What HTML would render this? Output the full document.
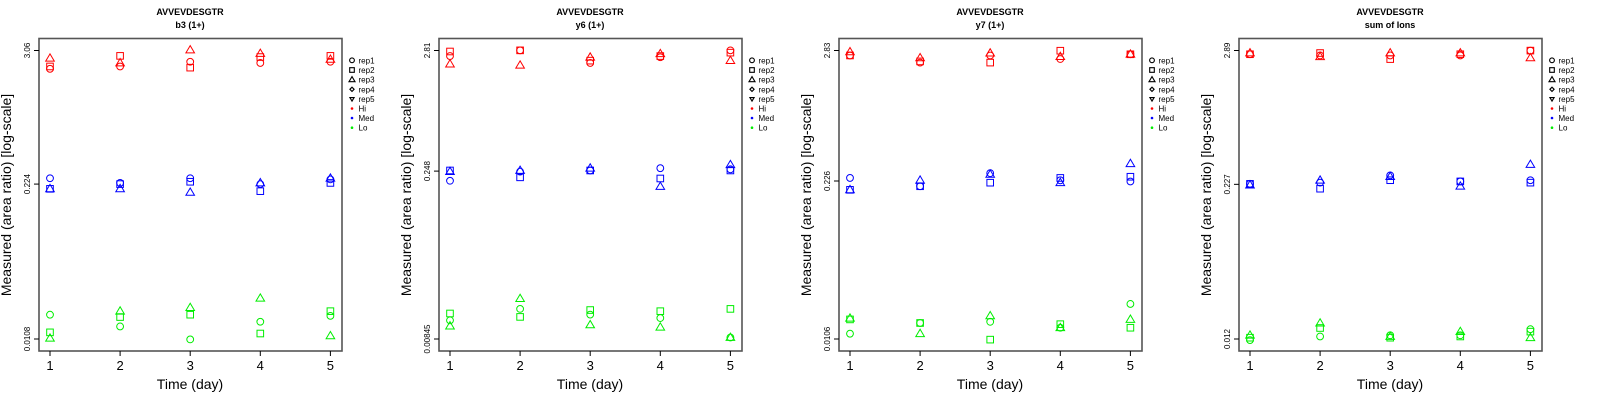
<!DOCTYPE html>
<html><head><meta charset="utf-8"><style>
html,body{margin:0;padding:0;background:#fff;}
svg{display:block;font-family:"Liberation Sans",Arial,sans-serif;}
</style></head><body>
<svg id="chart" width="1600" height="400" viewBox="0 0 1600 400" xmlns="http://www.w3.org/2000/svg"></svg>
<script>
// ---- data ----
const days = [1, 2, 3, 4, 5];
const panelTitles = ["b3 (1+)", "y6 (1+)", "y7 (1+)", "sum of Ions"];
const peptide = "AVVEVDESGTR";
const tickLabels = [["3.06","0.224","0.0108"],["2.81","0.248","0.00845"],["2.83","0.226","0.0106"],["2.89","0.227","0.012"]];
const tickValues = [[3.06,0.224,0.0108],[2.81,0.248,0.00845],[2.83,0.226,0.0106],[2.89,0.227,0.012]];
const groups = ["Hi","Med","Lo"];
const reps = ["rep1","rep2","rep3","rep4","rep5"];
// log10 measured values: [panel][group][day][rep1,rep2,rep3]
const p1Hi  = [[0.33,0.35,0.42],[0.35,0.44,0.38],[0.39,0.34,0.49],[0.38,0.43,0.46],[0.39,0.44,0.41]];
const p1Med = [[-0.60,-0.69,-0.69],[-0.64,-0.65,-0.69],[-0.60,-0.63,-0.72],[-0.65,-0.71,-0.64],[-0.61,-0.64,-0.60]];
const p1Lo  = [[-1.76,-1.91,-1.96],[-1.86,-1.78,-1.73],[-1.97,-1.76,-1.70],[-1.82,-1.92,-1.62],[-1.77,-1.73,-1.94]];
const p2Hi  = [[0.40,0.44,0.33],[0.45,0.45,0.32],[0.34,0.36,0.39],[0.39,0.40,0.42],[0.45,0.43,0.36]];
const p2Med = [[-0.69,-0.60,-0.61],[-0.61,-0.66,-0.60],[-0.60,-0.60,-0.58],[-0.58,-0.67,-0.74],[-0.59,-0.60,-0.55]];
const p2Lo  = [[-1.91,-1.85,-1.96],[-1.81,-1.88,-1.72],[-1.86,-1.82,-1.95],[-1.89,-1.83,-1.97],[-2.06,-1.81,-2.06]];
const p3Hi  = [[0.41,0.41,0.44],[0.35,0.36,0.39],[0.41,0.35,0.43],[0.38,0.45,0.40],[0.42,0.42,0.42]];
const p3Med = [[-0.62,-0.72,-0.72],[-0.69,-0.69,-0.64],[-0.58,-0.66,-0.59],[-0.64,-0.62,-0.66],[-0.65,-0.61,-0.50]];
const p3Lo  = [[-1.93,-1.81,-1.80],[-1.84,-1.84,-1.93],[-1.83,-1.98,-1.78],[-1.88,-1.85,-1.88],[-1.68,-1.88,-1.81]];
const p4Hi  = [[0.43,0.43,0.44],[0.42,0.44,0.41],[0.42,0.39,0.44],[0.42,0.43,0.44],[0.46,0.46,0.40]];
const p4Med = [[-0.64,-0.64,-0.65],[-0.63,-0.68,-0.61],[-0.57,-0.61,-0.58],[-0.62,-0.62,-0.66],[-0.61,-0.63,-0.48]];
const p4Lo  = [[-1.93,-1.91,-1.89],[-1.90,-1.83,-1.79],[-1.89,-1.91,-1.90],[-1.89,-1.90,-1.86],[-1.84,-1.86,-1.91]];
const panelData = [[p1Hi,p1Med,p1Lo],[p2Hi,p2Med,p2Lo],[p3Hi,p3Med,p3Lo],[p4Hi,p4Med,p4Lo]];
const groupColors = ["#ff0000","#0000ff","#00ee00"];

const NS = "http://www.w3.org/2000/svg";
const svg = document.getElementById("chart");
function mk(tag, attrs, parent, text){
  const e = document.createElementNS(NS, tag);
  for (const k in attrs) e.setAttribute(k, attrs[k]);
  if (text !== undefined) e.textContent = text;
  parent.appendChild(e);
  return e;
}
function marker(parent, shape, x, y, color){
  let e;
  if (shape === 0) e = mk("circle",{cx:x,cy:y,r:3.4,fill:"none",stroke:color,"stroke-width":1},parent);
  else if (shape === 1) e = mk("rect",{x:x-3.3,y:y-3.3,width:6.6,height:6.6,fill:"none",stroke:color,"stroke-width":1},parent);
  else if (shape === 2) e = mk("polygon",{points:`${x},${y-4.4} ${x-4.3},${y+2.9} ${x+4.3},${y+2.9}`,fill:"none",stroke:color,"stroke-width":1},parent);
  else if (shape === 3) e = mk("polygon",{points:`${x},${y-3} ${x+3},${y} ${x},${y+3} ${x-3},${y}`,fill:"none",stroke:color,"stroke-width":1},parent);
  else e = mk("polygon",{points:`${x},${y+3} ${x-3},${y-2} ${x+3},${y-2}`,fill:"none",stroke:color,"stroke-width":1},parent);
  return e;
}

for (let p = 0; p < 4; p++){
  const ox = p * 400;
  const g = mk("g",{transform:`translate(${ox},0)`},svg);
  
  
  const topLog = Math.log10(tickValues[p][0]), botLog = Math.log10(tickValues[p][2]);
  const yScale = v => 50.5 + (topLog - v) / (topLog - botLog) * 288.5;
  const xScale = d => 50 + (d - 1) * 70.1;

  const t1 = mk("text",{x:190,y:15,"text-anchor":"middle","font-size":"9","font-weight":"bold"},g,peptide);
  
  
  const t2 = mk("text",{x:190,y:28,"text-anchor":"middle","font-size":"9","font-weight":"bold"},g,panelTitles[p]);
  
  

  const box = mk("rect",{x:39,y:38.5,width:303,height:312.5,fill:"none",stroke:"#555","stroke-width":1.6},g);
  
  

  // x axis
  days.forEach(d => {
    const x = xScale(d);
    const tk = mk("line",{x1:x,y1:351,x2:x,y2:356,stroke:"#000","stroke-width":1},g);
    
    
    const tl = mk("text",{x:x,y:370,"text-anchor":"middle","font-size":"13"},g,String(d));
    
    
  });
  const xt = mk("text",{x:190,y:389,"text-anchor":"middle","font-size":"14"},g,"Time (day)");
  
  

  // y axis
  tickValues[p].forEach((v, i) => {
    const y = yScale(Math.log10(v));
    const tk = mk("line",{x1:34,y1:y,x2:39,y2:y,stroke:"#000","stroke-width":1},g);
    
    
    const tl = mk("text",{x:0,y:0,"text-anchor":"middle","font-size":"8",transform:`translate(30,${y}) rotate(-90)`},g,tickLabels[p][i]);
    
    
  });
  const yt = mk("text",{x:0,y:0,"text-anchor":"middle","font-size":"14",transform:"translate(11,195) rotate(-90)"},g,"Measured (area ratio) [log-scale]");
  
  

  // points
  panelData[p].forEach((series, gi) => {
    series.forEach((vals, di) => {
      vals.forEach((v, ri) => {
        const m = marker(g, ri, xScale(days[di]), yScale(v), groupColors[gi]);
        
        
      });
    });
  });

  // legend
  const lg = mk("g",{},g);
  
  
  const rowY = [60.3,70,79.7,89.3,99,108.5,118,127.7];
  reps.forEach((r, i) => {
    const sym = mk("g",{},lg);
    
    
    const s = marker(sym, i, 352, rowY[i], "#000");
    s.setAttribute("transform", `translate(352,${rowY[i]}) scale(0.7) translate(-352,${-rowY[i]})`);
    s.setAttribute("stroke-width","1.6");
    mk("text",{x:358.5,y:rowY[i]+3,"font-size":"8"},sym,r);
  });
  groups.forEach((gname, i) => {
    const y = rowY[5+i];
    const sym = mk("g",{},lg);
    
    
    mk("circle",{cx:352,cy:y,r:1.3,fill:groupColors[i]},sym);
    mk("text",{x:358.5,y:y+3,"font-size":"8"},sym,gname);
  });
}
</script>
</body></html>
